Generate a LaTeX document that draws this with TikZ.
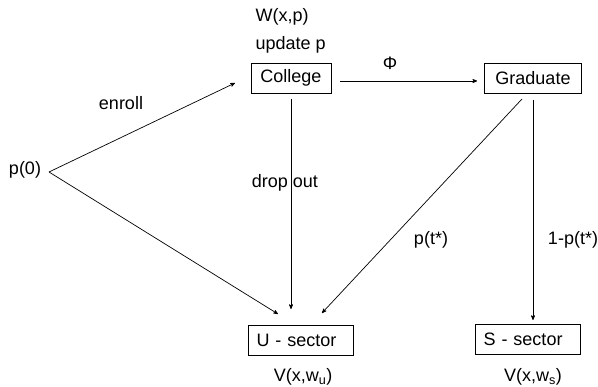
\documentclass[tikz,border=0pt]{standalone}
\usepackage{fontspec}
\setmainfont{Liberation Sans}
\usetikzlibrary{arrows}

\begin{document}
\begin{tikzpicture}[->,>=stealth',x=1pt,y=-1pt,line width=0.7pt,
  every node/.style={font=\fontsize{18}{21}\selectfont},
  state node/.style={draw,rectangle,inner sep=0pt,minimum height=30pt},
  sector node/.style={state node,minimum width=105pt,text width=89pt,align=left}]
  \useasboundingbox (0,0) rectangle (598,387);

  \node[state node,minimum width=80pt] (college) at (291,78) {College};
  \node[state node,minimum width=97pt] (grad) at (533,78) {Graduate};
  \node[sector node] (usec) at (301,340) {U - sector};
  \node[sector node] (ssec) at (528,339) {S - sector};

  \node (p0) at (25,170) {p(0)};
  \coordinate (fork) at (49,172);
  \coordinate (cin) at (235,83);
  \coordinate (uleft) at (278,314);
  \coordinate (umid) at (291,309);
  \coordinate (gout) at (522,99);
  \coordinate (uright) at (322,313);
  \coordinate (sin) at (533,320);

  % labels
  \node[anchor=west] (wxp) at (252,17) {W(x,p)};
  \node[anchor=west] (upd) at (252,45) {update p};
  \node (phi) at (390,63) {Φ};
  \node (enroll) at (121,103) {enroll};
  \node (drop) at (285,183) {drop out};
  \node (pt) at (431,240) {p(t*)};
  \node (qt) at (573,240) {1-p(t*)};
  \node (vu) at (303,377) {V(x,w\textsubscript{u})};
  \node (vs) at (533,377) {V(x,w\textsubscript{s})};

  \path
    (fork) edge (cin)
           edge (uleft)
    (college) edge [shorten <=6pt] (umid)
    ([yshift=-3pt]college.east) edge [shorten <=9pt,shorten >=7pt] ([yshift=-3pt]grad.west)
    (gout) edge (uright)
    (grad) edge [shorten <=7pt] (sin);
\end{tikzpicture}
\end{document}
